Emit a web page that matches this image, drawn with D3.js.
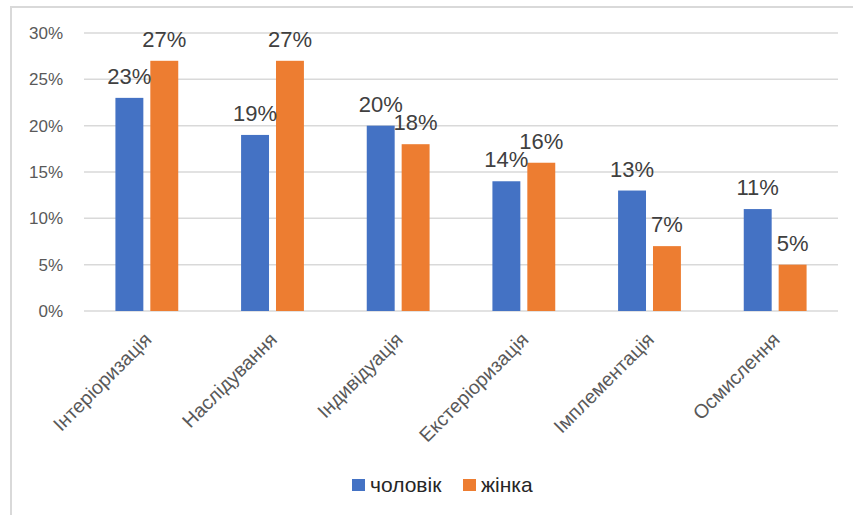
<!DOCTYPE html>
<html>
<head>
<meta charset="utf-8">
<script src="https://cdn.jsdelivr.net/npm/d3@7"></script>
<style>
  html, body { margin: 0; padding: 0; background: #ffffff; }
  svg { display: block; font-family: "Liberation Sans", Arial, sans-serif; }
</style>
</head>
<body>
<svg id="chart" width="853" height="515"></svg>
<script>
const categories = ["Інтеріоризація", "Наслідування", "Індивідуація", "Екстеріоризація", "Імплементація", "Осмислення"];
const seriesNames = ["чоловік", "жінка"];
const male = [0.23, 0.19, 0.20, 0.14, 0.13, 0.11];
const female = [0.27, 0.27, 0.18, 0.16, 0.07, 0.05];
const yTicks = [0, 0.05, 0.10, 0.15, 0.20, 0.25, 0.30];
const colors = ["#4472C4", "#ED7D31"];

const seriesValues = [male, female];

const svg = d3.select("#chart");

// outer frame
svg.append("path")
  .attr("d", "M11,515 L11,7 L853,7")
  .attr("fill", "none")
  .attr("stroke", "#d9d9d9")
  .attr("stroke-width", 2);

const plot = { left: 84, right: 838, top: 33, bottom: 311 };

const y = d3.scaleLinear().domain([0, 0.30]).range([plot.bottom, plot.top]);
const x0 = d3.scaleBand().domain(categories).range([plot.left, plot.right]).padding(0);
const bw = x0.bandwidth();
const x1 = d3.scaleBand().domain(seriesNames).range([bw * 0.25, bw * 0.75]).paddingInner(0.2).paddingOuter(0);

// gridlines
svg.append("g").selectAll("line").data(yTicks).join("line")
  .attr("x1", plot.left).attr("x2", plot.right)
  .attr("y1", d => y(d)).attr("y2", d => y(d))
  .attr("stroke", "#d9d9d9").attr("stroke-width", 1.5);

// y axis labels
const yAxis = d3.axisLeft(y).tickValues(yTicks).tickFormat(d3.format(".0%")).tickSize(0).tickPadding(0);
const gy = svg.append("g").attr("transform", "translate(63,0)").call(yAxis);
gy.select(".domain").remove();
gy.selectAll("text")
  .attr("font-size", 17)
  .attr("fill", "#595959")
  .attr("font-family", "Liberation Sans, Arial, sans-serif");

// bars
const rows = categories.map((c, i) => ({ cat: c, vals: seriesNames.map((s, j) => ({ s, j, v: seriesValues[j][i] })) }));
const groups = svg.append("g").selectAll("g").data(rows).join("g")
  .attr("transform", d => `translate(${x0(d.cat)},0)`);

groups.selectAll("rect").data(d => d.vals).join("rect")
  .attr("x", d => x1(d.s))
  .attr("width", x1.bandwidth())
  .attr("y", d => y(d.v))
  .attr("height", d => y(0) - y(d.v))
  .attr("fill", d => colors[d.j]);

groups.selectAll("text.lbl").data(d => d.vals).join("text")
  .attr("class", "lbl")
  .attr("x", d => x1(d.s) + x1.bandwidth() / 2)
  .attr("y", d => y(d.v) - 14)
  .attr("text-anchor", "middle")
  .attr("font-size", 22)
  .attr("fill", "#404040")
  .text(d => d3.format(".0%")(d.v));

// x axis category labels (rotated)
svg.append("g").selectAll("text").data(categories).join("text")
  .attr("transform", d => `translate(${x0(d) + bw / 2 + 1},336) rotate(-45)`)
  .attr("text-anchor", "end")
  .attr("dy", "0.35em")
  .attr("font-size", 19.5)
  .attr("fill", "#595959")
  .text(d => d);

// legend
const legend = svg.append("g");
const legendX = [352, 463];
seriesNames.forEach((s, j) => {
  legend.append("rect")
    .attr("x", legendX[j]).attr("y", 479)
    .attr("width", 13).attr("height", 12)
    .attr("fill", colors[j]);
  legend.append("text")
    .attr("x", legendX[j] + 18).attr("y", 485)
    .attr("dy", "0.35em")
    .attr("font-size", 21)
    .attr("fill", "#262626")
    .text(s);
});
</script>
</body>
</html>
